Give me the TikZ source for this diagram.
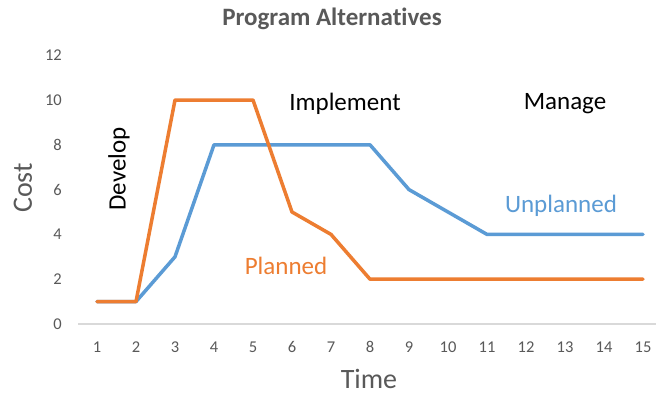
\documentclass[tikz,border=0pt]{standalone}
\usepackage{fontspec}
\setmainfont{Carlito}[Ligatures=NoCommon]
\definecolor{txtgray}{HTML}{595959}
\definecolor{xlorange}{HTML}{ED7D31}
\definecolor{xlblue}{HTML}{5B9BD5}
\definecolor{axgray}{HTML}{D9D9D9}
\begin{document}
\begin{tikzpicture}[x=1pt,y=-1pt,
  tick/.style={text=txtgray,font=\fontsize{16.5}{16.5}\selectfont,inner sep=0pt},
  series/.style={line width=3.5pt,line join=round,line cap=round},
  phase/.style={font=\fontsize{25}{25}\selectfont,inner sep=0pt},
  axtitle/.style={text=txtgray,font=\fontsize{28}{28}\selectfont,inner sep=0pt}]
\useasboundingbox[fill=white] (0,0) rectangle (656,394);
\node[text=txtgray,font=\fontsize{25}{25}\selectfont\bfseries] (title) at (332,19) {Program Alternatives};
% axis
\draw[axgray,line width=1.2pt] (78,324) -- (656,324);
% y ticks
\foreach \v/\y in {0/324,2/279.2,4/234.4,6/189.6,8/144.8,10/100,12/55.2}
  \node[tick,anchor=east] (y\v) at (62,\y) {\v};
% x ticks
\foreach \i in {1,...,15}
  \node[tick] (x\i) at ({97+39*(\i-1)},347) {\i};
\node[axtitle,rotate=90] (cost) at (23,188) {Cost};
\node[axtitle,anchor=base] (time) at (369,388) {Time};
% series
\draw[series,xlblue] (97,301.6) -- (136,301.6) -- (175,256.8) -- (214,144.8) -- (370,144.8) -- (409,189.6) -- (448,212) -- (487,234.4) -- (643,234.4);
\draw[series,xlorange] (97,301.6) -- (136,301.6) -- (175,100) -- (253,100) -- (292,212) -- (331,234.4) -- (370,279.2) -- (643,279.2);
% labels
\node[phase,rotate=90] (dev) at (119,169) {Develop};
\node[phase] (impl) at (345,104) {Implement};
\node[phase] (man) at (565,104) {Manage};
\node[phase,text=xlblue] (unpl) at (561,206) {Unplanned};
\node[phase,text=xlorange] (pl) at (286,266) {Planned};
\end{tikzpicture}
\end{document}
